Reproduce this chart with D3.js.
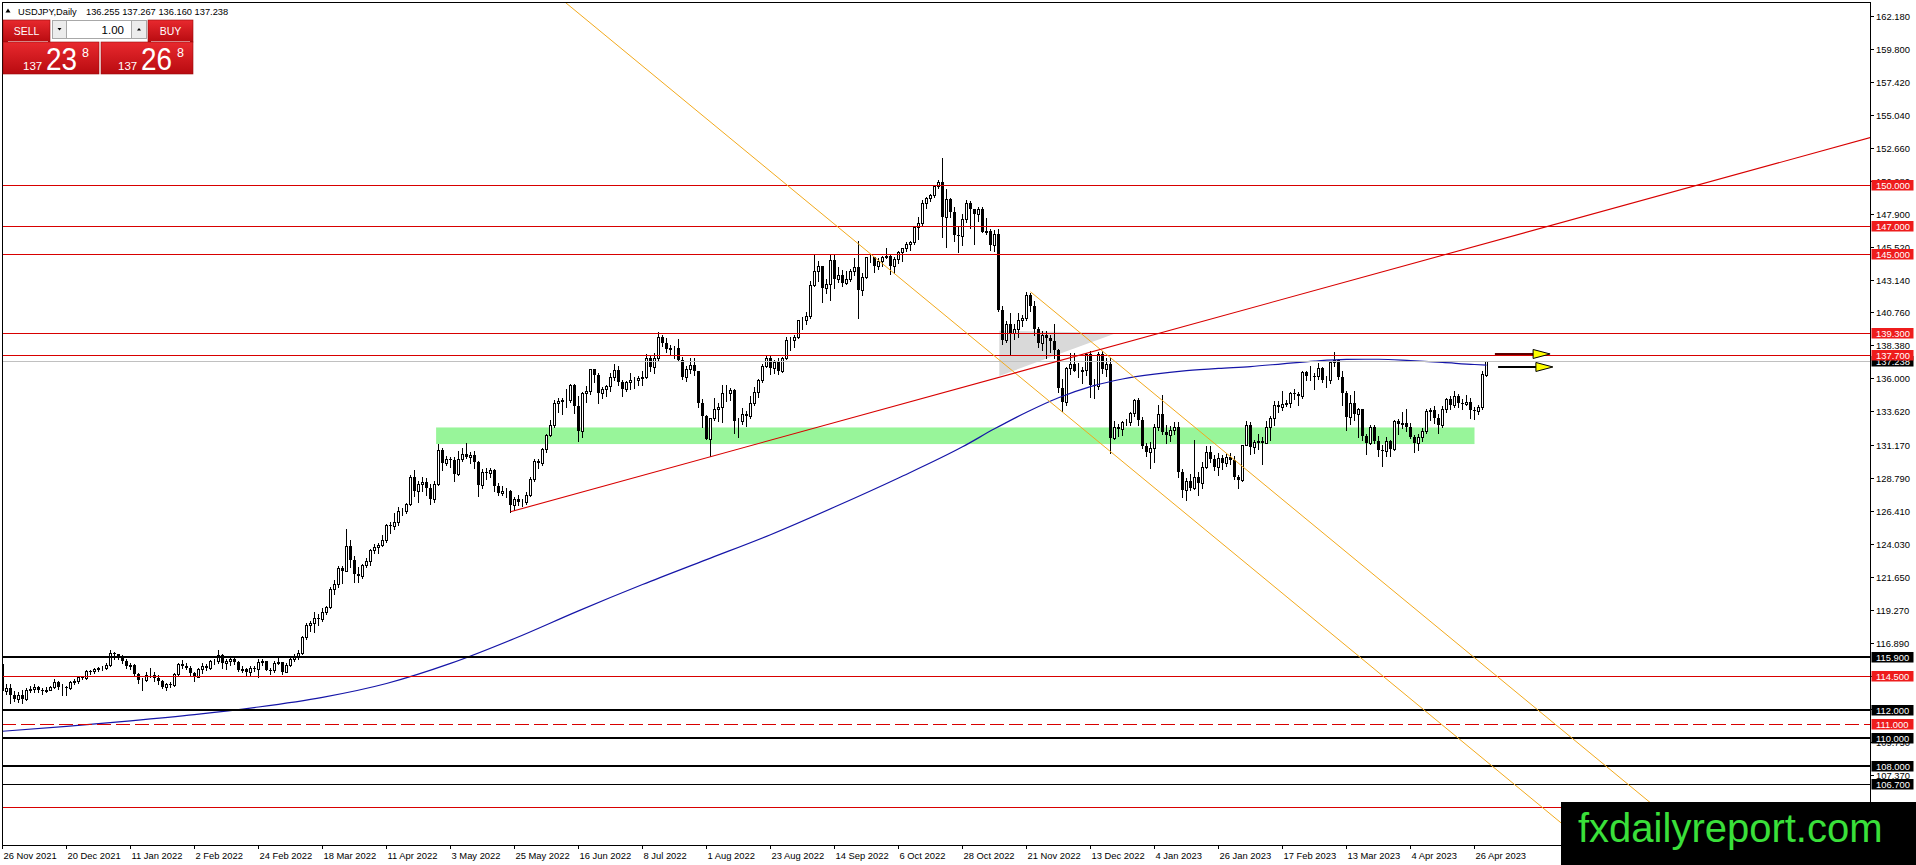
<!DOCTYPE html>
<html>
<head>
<meta charset="utf-8">
<script src="https://cdn.jsdelivr.net/npm/d3@7"></script>
<style>
  html, body { margin: 0; padding: 0; background: #fff; overflow: hidden; }
  svg { display: block; }
</style>
</head>
<body>
<div id="chart"></div>
<script>
// USDJPY daily bars, [open, high, low, close], one small array per month
const nov2021 = [[115.35,115.52,113.06,113.38],[113.40,113.95,113.20,113.65],[113.65,113.90,112.53,113.15]];
const dec2021 = [
  [113.15,113.40,112.70,112.80],[112.80,113.35,112.60,113.15],[113.15,113.50,112.55,112.80],
  [112.80,113.60,112.75,113.48],[113.48,113.80,113.30,113.55],[113.55,113.95,113.35,113.70],[113.70,113.75,113.35,113.48],[113.48,113.65,113.20,113.40],
  [113.40,113.70,113.30,113.45],[113.45,113.80,113.45,113.72],[113.72,114.25,113.60,114.06],[114.06,114.15,113.55,113.70],[113.70,113.90,113.15,113.70],
  [113.70,113.80,113.15,113.62],[113.62,114.15,113.55,114.09],[114.09,114.30,113.95,114.10],[114.10,114.45,114.00,114.40],[114.40,114.45,114.25,114.38],
  [114.38,114.90,114.30,114.84],[114.84,114.95,114.65,114.82],[114.82,115.05,114.70,114.98],[114.98,115.15,114.85,115.05],[115.05,115.20,114.95,115.08]];
const jan2022 = [
  [115.08,115.40,115.00,115.30],[115.30,116.35,115.20,116.12],[116.12,116.20,115.70,116.10],[116.10,116.10,115.70,115.82],[115.82,116.00,115.45,115.55],
  [115.55,115.70,115.05,115.20],[115.20,115.45,115.00,115.30],[115.30,115.35,114.50,114.62],[114.62,114.70,114.00,114.17],[114.17,114.35,113.50,114.20],
  [114.20,114.75,114.10,114.60],[114.60,115.05,114.40,114.60],[114.60,114.80,114.15,114.33],[114.33,114.60,113.95,114.12],[114.12,114.20,113.60,113.70],
  [113.70,114.00,113.50,113.95],[113.95,114.05,113.70,113.85],[113.85,114.70,113.75,114.65],[114.65,115.45,114.60,115.37],[115.37,115.65,115.05,115.25],
  [115.25,115.45,115.00,115.10]];
const feb2022 = [
  [115.10,115.25,114.60,114.70],[114.70,114.80,114.15,114.45],[114.45,115.10,114.40,114.98],[114.98,115.40,114.70,115.25],
  [115.25,115.35,114.95,115.08],[115.08,115.65,115.00,115.55],[115.55,115.70,115.35,115.55],[115.55,116.34,115.45,116.00],[116.00,116.05,115.05,115.42],
  [115.42,115.70,115.00,115.58],[115.58,115.85,115.30,115.70],[115.70,115.90,115.35,115.50],[115.50,115.55,114.85,114.95],[114.95,115.20,114.80,115.00],
  [115.00,115.10,114.55,114.75],[114.75,115.25,114.60,115.05],[115.05,115.20,114.85,115.00],[115.00,115.70,114.40,115.50],[115.50,115.75,115.30,115.55],
  [115.55,115.55,114.90,114.95]];
const mar2022 = [
  [114.95,115.10,114.65,114.90],[114.90,115.55,114.80,115.45],[115.45,115.80,115.35,115.50],[115.50,115.50,114.65,114.80],
  [114.80,115.45,114.80,115.30],[115.30,115.80,115.20,115.70],[115.70,116.10,115.60,115.85],[115.85,116.35,115.75,116.15],[116.15,117.35,116.05,117.28],
  [117.28,118.30,117.20,118.15],[118.15,118.45,117.75,118.30],[118.30,119.15,117.70,118.70],[118.70,119.00,118.20,118.60],[118.60,119.40,118.50,119.15],
  [119.15,119.55,118.95,119.45],[119.45,120.95,119.40,120.80],[120.80,121.40,120.40,121.15],[121.15,122.45,120.95,122.30],[122.30,122.45,121.20,122.05],
  [122.05,125.10,122.05,123.85],[123.85,124.30,122.40,122.90],[122.90,123.15,121.30,121.85],[121.85,122.40,121.30,121.70]];
const apr2022 = [
  [121.70,122.60,121.55,122.50],
  [122.50,123.05,122.40,122.80],[122.80,123.70,122.50,123.60],[123.60,124.00,123.40,123.78],[123.78,124.10,123.40,123.95],[123.95,124.70,123.85,124.35],
  [124.35,125.45,124.20,125.40],[125.40,125.60,124.80,125.35],[125.35,126.30,125.10,125.65],[125.65,126.70,125.40,126.40],[126.40,126.65,126.15,126.45],
  [126.45,127.00,126.30,126.95],[126.95,129.00,126.85,128.90],[128.90,129.40,127.50,127.85],[127.85,128.60,127.10,128.40],[128.40,128.85,127.85,128.50],
  [128.50,128.80,127.60,128.10],[128.10,128.35,126.95,127.25],[127.25,128.60,127.10,128.40],[128.40,131.25,128.30,130.80],[130.80,131.00,129.40,129.85]];
const may2022 = [
  [129.85,130.40,129.75,130.15],[130.15,130.35,129.60,130.10],[130.10,130.35,128.60,129.10],[129.10,130.75,129.00,130.20],[130.20,131.00,130.00,130.55],
  [130.55,131.35,130.25,130.30],[130.30,130.65,129.85,130.45],[130.45,130.75,129.50,129.95],[129.95,130.00,127.50,128.30],[128.30,129.45,128.05,129.25],
  [129.25,129.50,128.70,129.15],[129.15,129.50,128.85,129.35],[129.35,129.45,127.85,128.25],[128.25,128.45,127.55,127.75],[127.75,128.25,127.55,127.85],
  [127.85,128.10,127.45,127.85],[127.85,127.90,126.36,126.85],[126.85,127.45,126.50,127.30],[127.30,127.60,126.85,127.10],[127.10,127.25,126.80,127.10],
  [127.10,127.80,126.90,127.60],[127.60,128.85,127.50,128.70]];
const jun2022 = [
  [128.70,130.15,128.60,130.00],[130.00,130.20,129.50,129.85],[129.85,130.95,129.75,130.88],
  [130.88,132.00,130.70,131.90],[131.90,133.00,131.80,132.60],[132.60,134.45,132.50,134.25],[134.25,134.55,133.60,134.35],[134.35,134.60,133.40,134.40],
  [134.40,135.20,133.90,134.40],[134.40,135.60,134.30,135.50],[135.50,135.60,133.50,134.00],[134.00,134.70,131.50,132.20],[132.20,135.00,131.75,134.95],
  [134.95,135.45,134.30,135.05],[135.05,136.70,134.90,136.65],[136.65,136.70,135.70,136.25],[136.25,136.35,134.25,134.95],[134.95,135.40,134.55,135.20],
  [135.20,135.55,134.75,135.45],[135.45,136.35,135.10,136.12],[136.12,137.00,135.90,136.60],[136.60,136.90,135.55,135.70]];
const jul2022 = [
  [135.70,135.90,134.75,135.20],
  [135.20,135.80,135.05,135.70],[135.70,136.35,135.25,135.85],[135.85,136.10,135.30,135.90],[135.90,136.15,135.50,136.00],[136.00,136.55,135.55,136.10],
  [136.10,137.75,136.05,137.45],[137.45,137.70,136.55,136.85],[136.85,137.80,136.35,137.45],[137.45,139.38,137.35,138.95],[138.95,139.10,138.30,138.55],
  [138.55,138.90,137.90,138.15],[138.15,138.40,137.65,138.20],[138.20,138.35,137.50,138.20],[138.20,138.85,137.30,137.35],[137.35,137.55,135.95,136.10],
  [136.10,136.90,135.80,136.65],[136.65,137.45,136.40,136.95],[136.95,137.45,136.25,136.55],[136.55,136.55,133.95,134.25],[134.25,134.50,132.50,133.25]];
const aug2022 = [
  [133.25,133.35,131.60,131.60],[131.60,133.15,130.40,133.15],[133.15,134.55,133.00,133.75],[133.75,134.25,132.90,133.90],[133.90,135.50,132.85,134.95],
  [134.95,135.55,134.35,134.95],[134.95,135.30,134.40,135.15],[135.15,135.20,132.05,132.90],[132.90,133.10,131.75,132.95],[132.95,133.85,132.70,133.45],
  [133.45,133.65,132.55,133.30],[133.30,134.70,133.10,134.20],[134.20,135.40,134.10,135.00],[135.00,135.95,134.65,135.90],[135.90,137.05,135.70,136.90],
  [136.90,137.70,136.80,137.50],[137.50,137.65,136.30,136.75],[136.75,137.30,136.35,137.15],[137.15,137.45,136.30,136.55],[136.55,137.55,136.45,137.45],
  [137.45,139.00,137.40,138.75],[138.75,138.95,138.05,138.75],[138.75,139.10,138.25,138.95]];
const sep2022 = [
  [138.95,140.25,138.90,140.20],[140.20,140.40,139.60,140.20],
  [140.20,140.80,139.90,140.50],[140.50,143.00,140.35,142.75],[142.75,144.99,142.65,143.75],[143.75,144.50,143.05,144.10],[144.10,144.15,141.50,142.55],
  [142.55,143.15,142.20,142.80],[142.80,144.95,141.65,144.55],[144.55,144.95,142.55,143.20],[143.20,144.05,142.95,143.50],[143.50,143.80,142.65,142.90],
  [142.90,143.75,142.85,143.20],[143.20,143.90,143.00,143.75],[143.75,144.70,143.50,144.05],[144.05,145.90,140.35,142.35],[142.35,143.60,142.05,143.35],
  [143.35,144.80,143.25,144.75],[144.75,144.90,144.40,144.75],[144.75,144.80,143.70,144.15],[144.15,144.70,143.90,144.45],[144.45,144.85,144.10,144.75]];
const oct2022 = [
  [144.75,145.40,144.70,144.85],[144.85,145.00,143.55,144.15],[144.15,144.75,143.60,144.60],[144.60,145.20,144.30,145.15],[145.15,145.45,144.45,145.40],
  [145.40,145.85,145.20,145.70],[145.70,145.90,145.30,145.85],[145.85,146.95,145.70,146.90],[146.90,147.65,146.10,147.25],[147.25,148.85,147.05,148.70],
  [148.70,149.10,148.30,149.00],[149.00,149.30,148.80,149.25],[149.25,149.95,149.10,149.90],[149.90,150.30,149.75,150.15],[150.15,151.94,146.20,147.65],
  [147.65,149.70,145.50,148.95],[148.95,149.05,147.65,148.00],[148.00,148.40,145.95,146.35],[146.35,146.90,145.10,146.30],[146.30,147.85,145.60,147.50],
  [147.50,148.85,147.30,148.70]];
const nov2022 = [
  [148.70,148.80,146.85,148.20],[148.20,148.25,145.70,147.90],[147.90,148.40,147.40,148.20],[148.20,148.40,146.55,146.60],
  [146.60,147.55,146.45,146.65],[146.65,146.80,145.30,145.65],[145.65,146.75,145.20,146.40],[146.40,146.80,140.85,140.95],[140.95,141.20,138.45,138.75],
  [138.75,140.15,138.60,139.90],[139.90,140.70,137.65,139.25],[139.25,139.90,138.85,139.55],[139.55,140.75,139.00,140.20],[140.20,140.55,139.75,140.35],
  [140.35,142.25,140.25,142.05],[142.05,142.15,140.90,141.20],[141.20,141.60,139.10,139.55],[139.55,139.70,138.25,138.55],[138.55,139.40,138.05,139.15],
  [139.15,139.40,137.50,138.90],[138.90,139.10,137.90,138.70],[138.70,139.90,137.50,138.05]];
const dec2022 = [
  [138.05,138.15,135.00,135.30],[135.30,135.95,133.62,134.30],
  [134.30,136.85,134.10,136.75],[136.75,137.85,136.30,137.00],[137.00,137.85,136.55,136.55],[136.55,137.10,136.10,136.55],[136.55,136.80,135.65,136.60],
  [136.60,137.85,136.25,137.75],[137.75,138.00,134.65,135.55],[135.55,135.95,134.55,135.45],[135.45,137.90,135.25,137.75],[137.75,137.95,136.40,136.65],
  [136.65,137.45,136.20,137.00],[137.00,137.45,130.58,131.70],[131.70,132.90,131.60,132.45],[132.45,132.70,131.85,132.35],[132.35,132.95,131.90,132.85],
  [132.85,133.05,132.60,132.85],[132.85,133.55,132.60,133.50],[133.50,134.50,133.30,134.45],[134.45,134.55,132.65,133.00],[133.00,133.20,130.95,131.10]];
const jan2023 = [
  [131.10,131.30,130.40,130.70],[130.70,131.40,129.50,131.00],[131.00,132.70,129.95,132.45],[132.45,134.05,132.25,133.40],[133.40,134.77,131.95,132.10],
  [132.10,132.65,131.30,131.90],[131.90,132.55,131.50,132.25],[132.25,132.85,131.95,132.45],[132.45,132.85,128.90,129.20],[129.20,129.45,127.45,127.90],
  [127.90,128.80,127.22,128.55],[128.55,129.10,127.90,128.10],[128.10,131.58,128.00,128.90],[128.90,129.20,127.60,128.45],[128.45,129.95,128.10,129.60],
  [129.60,131.10,129.50,130.70],[130.70,131.10,129.95,130.15],[130.15,130.45,129.35,129.60],[129.60,130.60,129.05,130.25],[130.25,130.45,129.45,129.85],
  [129.85,130.50,129.65,130.35],[130.35,130.60,129.80,130.10]];
const feb2023 = [
  [130.10,130.40,128.70,128.90],[128.90,129.05,128.10,128.65],[128.65,131.20,128.55,131.20],
  [131.20,132.90,131.15,132.60],[132.60,132.85,130.50,131.05],[131.05,131.55,130.60,131.40],[131.40,131.95,130.90,131.50],[131.50,131.75,129.80,131.35],
  [131.35,132.90,131.30,132.45],[132.45,133.30,131.55,133.15],[133.15,134.35,132.60,134.10],[134.10,134.35,133.60,133.95],[133.95,135.10,133.70,134.15],
  [134.15,134.40,134.00,134.25],[134.25,135.00,133.95,134.95],[134.95,135.25,134.50,134.90],[134.90,135.00,134.05,134.70],[134.70,136.50,134.55,136.45],
  [136.45,136.55,135.85,136.20],[136.20,136.90,135.85,136.20]];
const mar2023 = [
  [136.20,136.35,135.25,136.15],[136.15,137.10,135.95,136.75],[136.75,136.85,135.75,135.85],
  [135.85,136.20,135.35,135.90],[135.90,137.20,135.65,137.15],[137.15,137.91,136.90,137.35],[137.35,137.40,135.95,136.10],[136.10,136.50,134.10,134.95],
  [134.95,135.10,132.30,133.20],[133.20,134.80,132.70,134.25],[134.25,135.10,133.00,133.40],[133.40,133.85,131.75,133.75],[133.75,133.80,131.55,131.80],
  [131.80,131.95,130.55,131.30],[131.30,132.65,131.25,132.50],[132.50,132.65,131.30,131.45],[131.45,131.80,130.40,130.85],[130.85,131.15,129.65,130.75],
  [130.75,131.75,130.40,131.45],[131.45,131.55,130.40,130.90],[130.90,133.00,130.80,132.90],[132.90,133.05,132.00,132.70],[132.70,133.60,132.40,132.80]];
const apr2023 = [
  [132.80,133.75,132.20,132.45],[132.45,132.80,131.70,131.75],[131.75,131.90,130.65,131.30],[131.30,131.95,130.85,131.75],[131.75,132.40,131.50,132.20],
  [132.20,133.75,132.05,133.65],[133.65,133.85,133.00,133.70],[133.70,134.00,132.75,133.10],[133.10,133.40,132.05,132.60],[132.60,134.00,132.45,133.80],
  [133.80,134.60,133.55,134.50],[134.50,134.75,133.80,134.10],[134.10,135.10,133.90,134.70],[134.70,134.85,133.95,134.25],[134.25,134.50,133.75,134.15],
  [134.15,134.80,134.05,134.30],[134.30,134.55,133.10,133.70],[133.70,133.90,133.05,133.65],[133.65,134.10,133.40,133.95],[133.95,136.55,133.80,136.30]];
const may2023 = [[136.255,137.267,136.160,137.238]];

// 200-day moving average, read at bar indexes
const maBars   = [0, 16, 32, 48, 64, 80, 96, 112, 128, 144, 160, 176, 192, 208, 224, 240, 248, 256, 264, 272, 280, 288, 296, 304, 312, 320, 328, 336, 344, 352, 360, 368, 371];
const maValues = [110.50, 110.85, 111.25, 111.70, 112.25, 112.95, 113.95, 115.40, 117.20, 119.20, 121.10, 122.90, 124.70, 126.70, 128.80, 131.05, 132.35, 133.55, 134.60, 135.40, 135.95, 136.30, 136.55, 136.72, 136.85, 137.05, 137.25, 137.37, 137.38, 137.28, 137.15, 137.00, 136.96];

// axis labels
const priceTicks = ['162.180','159.800','157.420','155.040','152.660','150.280','147.900','145.520','143.140','140.760','138.380','136.000',
  '133.620','131.170','128.790','126.410','124.030','121.650','119.270','116.890','114.510','112.130','109.750','107.370'];
const dateLabels = ['26 Nov 2021','20 Dec 2021','11 Jan 2022','2 Feb 2022','24 Feb 2022','18 Mar 2022','11 Apr 2022','3 May 2022',
  '25 May 2022','16 Jun 2022','8 Jul 2022','1 Aug 2022','23 Aug 2022','14 Sep 2022','6 Oct 2022','28 Oct 2022','21 Nov 2022',
  '13 Dec 2022','4 Jan 2023','26 Jan 2023','17 Feb 2023','13 Mar 2023','4 Apr 2023','26 Apr 2023'];
const dateEvery = 16;

// horizontal levels
const redLevels   = [150.000, 147.000, 145.000, 139.300, 137.700, 114.500, 105.000];
const dashLevels  = [111.000];
const blackLevels = [115.900, 112.000, 110.000, 108.000, 106.700];
const blackWidths = [2, 2, 2, 2, 1];
const bidPrice = 137.238;

// drawn objects: [bar index, price]
const redTrend  = [[127, 126.36], [467, 153.40]];
const channelA  = [[140, 163.33], [420, 96.65]];
const channelB  = [[257, 142.25], [440, 98.66]];
const greyTri   = [[249.2, 139.44], [278.5, 139.27], [249.2, 136.17]];
const greenZone = {from: 108.4, to: 368, top: 132.45, bottom: 131.25};
const arrows = [
  {from: 373.1, to: 386.9, price: 137.76, color: '#5a0000'},
  {from: 373.9, to: 387.6, price: 136.82, color: '#000000'}
];

const W = 1916, H = 865;
const plot = {left: 2, top: 3, right: 1870, bottom: 845};
const font = 'Tahoma, "Liberation Sans", Arial, sans-serif';

const candles = [].concat(nov2021, dec2021, jan2022, feb2022, mar2022, apr2022, may2022, jun2022, jul2022,
  aug2022, sep2022, oct2022, nov2022, dec2022, jan2023, feb2023, mar2023, apr2023, may2023)
  .map((d, i) => ({i: i, o: d[0], h: d[1], l: d[2], c: d[3]}));

const x = d3.scaleLinear().domain([0, 467]).range([2.5, 1870.5]);
const y = d3.scaleLinear().domain([102.281, 163.119]).range([plot.bottom, plot.top]);
const cx = (i) => Math.floor(x(i)) + 0.5;
const ry = (p) => Math.round(y(p));

const svg = d3.select('#chart').append('svg')
  .attr('width', W).attr('height', H)
  .style('font-family', font);

svg.append('rect').attr('width', W).attr('height', H).attr('fill', '#fff');

const defs = svg.append('defs');
defs.append('clipPath').attr('id', 'plotClip')
  .append('rect')
  .attr('x', plot.left).attr('y', plot.top)
  .attr('width', plot.right - plot.left).attr('height', plot.bottom - plot.top);

const grad = defs.append('linearGradient').attr('id', 'redGrad')
  .attr('x1', 0).attr('y1', 0).attr('x2', 0).attr('y2', 1);
grad.append('stop').attr('offset', '0%').attr('stop-color', '#e8292e');
grad.append('stop').attr('offset', '100%').attr('stop-color', '#b80b10');

const g = svg.append('g').attr('clip-path', 'url(#plotClip)');

// background objects
g.append('rect')
  .attr('x', x(greenZone.from)).attr('y', y(greenZone.top))
  .attr('width', x(greenZone.to) - x(greenZone.from))
  .attr('height', y(greenZone.bottom) - y(greenZone.top))
  .attr('fill', '#98f59a');

g.append('polygon')
  .attr('points', greyTri.map(d => x(d[0]) + ',' + y(d[1])).join(' '))
  .attr('fill', '#d9d9d9');

// candles
const bars = g.append('g').attr('shape-rendering', 'crispEdges');

bars.selectAll('line.wick').data(candles).join('line')
  .attr('class', 'wick')
  .attr('x1', d => cx(d.i)).attr('x2', d => cx(d.i))
  .attr('y1', d => ry(d.h)).attr('y2', d => ry(d.l) + 1)
  .attr('stroke', '#000');

bars.selectAll('rect.bull').data(candles.filter(d => d.c >= d.o)).join('rect')
  .attr('class', 'bull')
  .attr('x', d => cx(d.i) - 1)
  .attr('y', d => ry(d.c) + 0.5)
  .attr('width', 2)
  .attr('height', d => Math.max(ry(d.o) - ry(d.c), 0))
  .attr('fill', '#fff')
  .attr('stroke', '#000');

bars.selectAll('rect.bear').data(candles.filter(d => d.c < d.o)).join('rect')
  .attr('class', 'bear')
  .attr('x', d => cx(d.i) - 1.5)
  .attr('y', d => ry(d.o))
  .attr('width', 3)
  .attr('height', d => Math.max(ry(d.c) - ry(d.o), 1))
  .attr('fill', '#000');

// moving average
const maLine = d3.line()
  .x(d => x(d[0])).y(d => y(d[1]))
  .curve(d3.curveMonotoneX);
g.append('path')
  .attr('d', maLine(maBars.map((b, k) => [b, maValues[k]])))
  .attr('fill', 'none')
  .attr('stroke', '#1515a8')
  .attr('stroke-width', 1.2);

// horizontal levels
const hLine = (p, color, width, dash) => {
  const yy = width % 2 ? ry(p) + 0.5 : ry(p);
  g.append('line')
    .attr('x1', plot.left).attr('x2', plot.right)
    .attr('y1', yy).attr('y2', yy)
    .attr('stroke', color)
    .attr('stroke-width', width)
    .attr('stroke-dasharray', dash || null)
    .attr('shape-rendering', 'crispEdges');
};
hLine(bidPrice, '#c0c0c0', 1);
redLevels.forEach(p => hLine(p, '#d80000', 1));
dashLevels.forEach(p => hLine(p, '#d80000', 1, '14,5'));
blackLevels.forEach((p, k) => hLine(p, '#000', blackWidths[k]));

// trend lines
const seg = d3.line().x(d => x(d[0])).y(d => y(d[1]));
g.append('path').attr('d', seg(channelA)).attr('fill', 'none').attr('stroke', '#f2a91c').attr('stroke-width', 1);
g.append('path').attr('d', seg(channelB)).attr('fill', 'none').attr('stroke', '#f2a91c').attr('stroke-width', 1);
g.append('path').attr('d', seg(redTrend)).attr('fill', 'none').attr('stroke', '#d80000').attr('stroke-width', 1.1);

// arrows
arrows.forEach(a => {
  const x0 = x(a.from), x1 = x(a.to), yy = y(a.price);
  g.append('line')
    .attr('x1', x0).attr('x2', x1 - 15)
    .attr('y1', yy).attr('y2', yy)
    .attr('stroke', a.color).attr('stroke-width', 2);
  g.append('polygon')
    .attr('points', [[x1 - 17, yy - 4.5], [x1, yy], [x1 - 17, yy + 4.5]].map(p => p.join(',')).join(' '))
    .attr('fill', '#ffff00')
    .attr('stroke', '#000')
    .attr('stroke-width', 1);
});

// frame and axes
svg.append('rect')
  .attr('x', plot.left + 0.5).attr('y', plot.top - 0.5)
  .attr('width', plot.right - plot.left).attr('height', plot.bottom - plot.top + 0.5)
  .attr('fill', 'none').attr('stroke', '#000')
  .attr('shape-rendering', 'crispEdges');

const axisG = svg.append('g').attr('font-size', '9.4px');

priceTicks.forEach(t => {
  const yy = ry(+t) + 0.5;
  axisG.append('line')
    .attr('x1', plot.right).attr('x2', plot.right + 3.5)
    .attr('y1', yy).attr('y2', yy)
    .attr('stroke', '#000').attr('shape-rendering', 'crispEdges');
  axisG.append('text')
    .attr('x', plot.right + 6).attr('y', yy + 3.3)
    .attr('fill', '#000')
    .text(t);
});

dateLabels.forEach((t, k) => {
  const xx = cx(k * dateEvery);
  axisG.append('line')
    .attr('x1', xx).attr('x2', xx)
    .attr('y1', plot.bottom).attr('y2', plot.bottom + 4)
    .attr('stroke', '#000').attr('shape-rendering', 'crispEdges');
  axisG.append('text')
    .attr('x', xx + 1).attr('y', plot.bottom + 14)
    .attr('fill', '#000')
    .text(t);
});

// price labels on the axis
const priceLabel = (p, bg) => {
  const yy = y(p);
  axisG.append('rect')
    .attr('x', plot.right + 1.5).attr('y', Math.round(yy) - 5)
    .attr('width', 42).attr('height', 10.5)
    .attr('fill', bg);
  axisG.append('text')
    .attr('x', plot.right + 6).attr('y', Math.round(yy) + 3.5)
    .attr('fill', '#fff')
    .text(p.toFixed(3));
};
priceLabel(bidPrice, '#000');
blackLevels.forEach(p => priceLabel(p, '#000'));
redLevels.forEach(p => priceLabel(p, '#ee1c1c'));
dashLevels.forEach(p => priceLabel(p, '#ee1c1c'));

// header
svg.append('polygon').attr('points', '5.5,12.5 8,8.5 10.5,12.5').attr('fill', '#000');
svg.append('text').attr('x', 18).attr('y', 15).attr('font-size', '9.3px').text('USDJPY,Daily');
svg.append('text').attr('x', 86).attr('y', 15).attr('font-size', '9.3px').text('136.255 137.267 136.160 137.238');

// one click trading panel
const panel = svg.append('g');
const redBox = (bx, by, bw, bh) => panel.append('rect')
  .attr('x', bx).attr('y', by).attr('width', bw).attr('height', bh)
  .attr('fill', 'url(#redGrad)').attr('stroke', '#9a0a0a').attr('stroke-width', 0.6);
redBox(3, 20, 47, 22);
redBox(148, 20, 45, 22);
redBox(3, 42, 96, 32);
redBox(101, 42, 92, 32);
panel.append('line').attr('x1', 8).attr('x2', 48).attr('y1', 41.5).attr('y2', 41.5).attr('stroke', 'rgba(255,255,255,0.5)');
panel.append('line').attr('x1', 151).attr('x2', 190).attr('y1', 41.5).attr('y2', 41.5).attr('stroke', 'rgba(255,255,255,0.5)');

panel.append('rect').attr('x', 52.5).attr('y', 20.5).attr('width', 14).attr('height', 18).attr('fill', '#ececec').attr('stroke', '#a8a8a8');
panel.append('rect').attr('x', 66.5).attr('y', 20.5).attr('width', 65).attr('height', 18).attr('fill', '#fff').attr('stroke', '#a8a8a8');
panel.append('rect').attr('x', 131.5).attr('y', 20.5).attr('width', 15).attr('height', 18).attr('fill', '#ececec').attr('stroke', '#a8a8a8');
panel.append('polygon').attr('points', '57.5,28 61.5,28 59.5,30.5').attr('fill', '#000');
panel.append('polygon').attr('points', '137,30.5 141,30.5 139,28').attr('fill', '#000');
panel.append('text').attr('x', 124).attr('y', 34).attr('text-anchor', 'end').attr('font-size', '11.5px').attr('fill', '#000').text('1.00');

panel.append('text').attr('x', 26.5).attr('y', 35).attr('text-anchor', 'middle').attr('font-size', '10.5px').attr('fill', '#fff').text('SELL');
panel.append('text').attr('x', 170.5).attr('y', 35).attr('text-anchor', 'middle').attr('font-size', '10.5px').attr('fill', '#fff').text('BUY');

const quote = (x0, big, small, pip) => {
  panel.append('text').attr('x', x0).attr('y', 70).attr('font-size', '11.5px').attr('fill', '#fff').text(small);
  panel.append('text').attr('x', x0 + 23).attr('y', 70).attr('font-size', '32px').attr('fill', '#fff')
    .attr('textLength', 31).attr('lengthAdjust', 'spacingAndGlyphs').text(big);
  panel.append('text').attr('x', x0 + 59).attr('y', 57).attr('font-size', '12.5px').attr('fill', '#fff').text(pip);
};
quote(23, '23', '137', '8');
quote(118, '26', '137', '8');

// watermark
svg.append('rect').attr('x', 1561).attr('y', 802).attr('width', W - 1561).attr('height', H - 802).attr('fill', '#000');
svg.append('text').attr('x', 1578).attr('y', 842).attr('font-size', '40px').attr('fill', '#3ae03a').text('fxdailyreport.com');
</script>
</body>
</html>
